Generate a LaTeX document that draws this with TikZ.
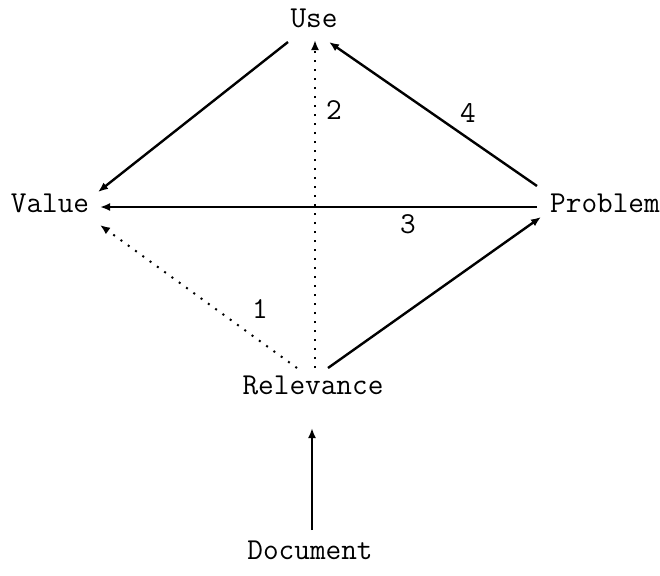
\documentclass[tikz,border=0pt]{standalone}
\usepackage{fontspec}
\usepackage{tikz}
\usetikzlibrary{positioning, arrows.meta, calc}

\begin{document}
\begin{tikzpicture}[
    x=0.5pt, y=-0.5pt,
    term/.style={font=\ttfamily\fontsize{15.2}{18}\selectfont, inner sep=0pt},
    num/.style={font=\ttfamily\fontsize{15.2}{18}\selectfont, inner sep=0pt},
    arr/.style={-{Latex[length=5pt, width=4pt]}, line width=1.2pt},
    dotarr/.style={-{Latex[length=5pt, width=4pt]}, line width=1pt,
                   dash pattern=on 1pt off 3.5pt}
  ]
  \useasboundingbox (0,0) rectangle (660,575);
  % the five terms
  \node[term] (use)     at (314,18)  {Use};
  \node[term] (value)   at (50,203)  {Value};
  \node[term] (problem) at (605,203) {Problem};
  \node[term] (rel)     at (313,385) {Relevance};
  \node[term] (doc)     at (310,550) {Document};
  % edge numbers
  \node[num] (n1) at (260,309) {1};
  \node[num] (n2) at (334,110) {2};
  \node[num] (n3) at (408,224) {3};
  \node[num] (n4) at (468,113) {4};
  % links
  \draw[arr] ($(use)+(-26,24)$) -- ($(value)+(48,-11)$);
  \draw[dotarr] ($(rel)+(2,-17)$) -- ($(use)+(1,22)$);
  \draw[arr] ($(problem)+(-68,-17)$) -- ($(use)+(15,24)$);
  \draw[arr] ($(problem)+(-68,4)$) -- ($(value)+(50,4)$);
  \draw[dotarr] ($(rel)+(-16,-17)$) -- ($(value)+(50,22)$);
  \draw[arr] ($(rel)+(15,-17)$) -- ($(problem)+(-64,14)$);
  \draw[arr] ($(doc)+(2,-20)$) -- ($(rel)+(-1,43)$);
\end{tikzpicture}
\end{document}
